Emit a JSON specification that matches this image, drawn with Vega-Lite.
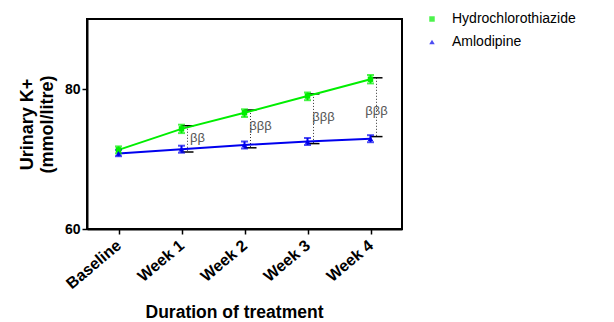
{
  "$schema": "https://vega.github.io/schema/vega-lite/v6.json",
  "width": 315,
  "height": 210,
  "autosize": "none",
  "padding": {"left": 87, "top": 19, "right": 212, "bottom": 93},
  "config": {
    "view": {"stroke": "black", "strokeWidth": 2},
    "font": "Liberation Sans",
    "axis": {"grid": false, "domainColor": "black", "domainWidth": 2, "tickColor": "black", "tickWidth": 1.5, "tickSize": 5, "labelColor": "black", "titleColor": "black", "labelFont": "Liberation Sans", "titleFont": "Liberation Sans", "labelFontWeight": "bold", "titleFontWeight": "bold"}
  },
  "datasets": {
    "means": [
      {"week": "Baseline", "drug": "Hydrochlorothiazide", "mean": 71.3, "lo": 70.8, "hi": 71.8},
      {"week": "Week 1", "drug": "Hydrochlorothiazide", "mean": 74.3, "lo": 73.7, "hi": 74.9},
      {"week": "Week 2", "drug": "Hydrochlorothiazide", "mean": 76.6, "lo": 76.0, "hi": 77.1},
      {"week": "Week 3", "drug": "Hydrochlorothiazide", "mean": 79.0, "lo": 78.4, "hi": 79.5},
      {"week": "Week 4", "drug": "Hydrochlorothiazide", "mean": 81.4, "lo": 80.8, "hi": 82.0},
      {"week": "Baseline", "drug": "Amlodipine", "mean": 70.8, "lo": 70.4, "hi": 71.3},
      {"week": "Week 1", "drug": "Amlodipine", "mean": 71.4, "lo": 70.9, "hi": 71.9},
      {"week": "Week 2", "drug": "Amlodipine", "mean": 72.0, "lo": 71.5, "hi": 72.5},
      {"week": "Week 3", "drug": "Amlodipine", "mean": 72.5, "lo": 72.0, "hi": 73.0},
      {"week": "Week 4", "drug": "Amlodipine", "mean": 72.9, "lo": 72.4, "hi": 73.4}
    ],
    "sig": [
      {"week": "Week 1", "top": 74.75, "bottom": 71.0, "label": "ββ", "labelY": 73.0},
      {"week": "Week 2", "top": 77.0, "bottom": 71.6, "label": "βββ", "labelY": 74.7},
      {"week": "Week 3", "top": 79.3, "bottom": 72.2, "label": "βββ", "labelY": 76.0},
      {"week": "Week 4", "top": 81.6, "bottom": 73.2, "label": "βββ", "labelY": 76.8}
    ]
  },
  "layer": [
    {
      "data": {"name": "sig"},
      "mark": {"type": "rule", "color": "#333333", "strokeWidth": 1, "strokeDash": [1, 2], "xOffset": 6},
      "encoding": {
        "x": {"field": "week", "type": "ordinal"},
        "y": {"field": "top", "type": "quantitative"},
        "y2": {"field": "bottom"}
      }
    },
    {
      "data": {"name": "sig"},
      "mark": {"type": "rule", "color": "black", "strokeWidth": 1.5, "xOffset": 0, "x2Offset": 12},
      "encoding": {
        "x": {"field": "week", "type": "ordinal"},
        "x2": {"field": "week"},
        "y": {"field": "top", "type": "quantitative"}
      }
    },
    {
      "data": {"name": "sig"},
      "mark": {"type": "rule", "color": "black", "strokeWidth": 1.5, "xOffset": 0, "x2Offset": 12},
      "encoding": {
        "x": {"field": "week", "type": "ordinal"},
        "x2": {"field": "week"},
        "y": {"field": "bottom", "type": "quantitative"}
      }
    },
    {
      "data": {"name": "sig"},
      "transform": [{"filter": "datum.week != 'Week 4'"}],
      "mark": {"type": "text", "dx": 16, "fontSize": 13, "color": "#555555", "align": "center", "baseline": "middle"},
      "encoding": {
        "x": {"field": "week", "type": "ordinal"},
        "y": {"field": "labelY", "type": "quantitative"},
        "text": {"field": "label"}
      }
    },
    {
      "data": {"name": "sig"},
      "transform": [{"filter": "datum.week == 'Week 4'"}],
      "mark": {"type": "text", "dx": 6, "fontSize": 13, "color": "#555555", "align": "center", "baseline": "middle"},
      "encoding": {
        "x": {"field": "week", "type": "ordinal"},
        "y": {"field": "labelY", "type": "quantitative"},
        "text": {"field": "label"}
      }
    },
    {
      "data": {"name": "means"},
      "mark": {"type": "line", "strokeWidth": 2},
      "encoding": {
        "x": {"field": "week", "type": "ordinal"},
        "y": {"field": "mean", "type": "quantitative"},
        "color": {"field": "drug", "type": "nominal"}
      }
    },
    {
      "data": {"name": "means"},
      "mark": {"type": "rule", "strokeWidth": 2},
      "encoding": {
        "x": {"field": "week", "type": "ordinal"},
        "y": {"field": "lo", "type": "quantitative"},
        "y2": {"field": "hi"},
        "color": {"field": "drug", "type": "nominal"}
      }
    },
    {
      "data": {"name": "means"},
      "mark": {"type": "tick", "size": 7, "thickness": 2},
      "encoding": {
        "x": {"field": "week", "type": "ordinal"},
        "y": {"field": "lo", "type": "quantitative"},
        "color": {"field": "drug", "type": "nominal"}
      }
    },
    {
      "data": {"name": "means"},
      "mark": {"type": "tick", "size": 7, "thickness": 2},
      "encoding": {
        "x": {"field": "week", "type": "ordinal"},
        "y": {"field": "hi", "type": "quantitative"},
        "color": {"field": "drug", "type": "nominal"}
      }
    },
    {
      "data": {"name": "means"},
      "mark": {"type": "point", "filled": true, "size": 30, "opacity": 1},
      "encoding": {
        "x": {
          "field": "week", "type": "ordinal",
          "scale": {"type": "point", "padding": 0.5},
          "axis": {"title": "Duration of treatment", "labelAngle": -40, "labelAlign": "right", "labelBaseline": "middle", "labelFontSize": 16, "labelPadding": 9, "titleFontSize": 17.5, "titleX": 147, "titleY": 88, "titleAlign": "center", "titleBaseline": "alphabetic"}
        },
        "y": {
          "field": "mean", "type": "quantitative",
          "scale": {"domain": [60, 90], "nice": false, "zero": false},
          "axis": {"title": ["Urinary K+", "(mmol/litre)"], "values": [60, 80], "labelFontSize": 14, "titleFontSize": 18, "titleLineHeight": 20, "titlePadding": 8, "labelPadding": 2}
        },
        "color": {
          "field": "drug", "type": "nominal",
          "scale": {"domain": ["Hydrochlorothiazide", "Amlodipine"], "range": ["#00ee00", "#0000ee"]},
          "legend": {"title": null, "orient": "none", "legendX": 338, "legendY": -7, "labelFontSize": 14, "labelColor": "black", "symbolSize": 30, "rowPadding": 9, "labelOffset": 13, "symbolStrokeWidth": 0}
        },
        "shape": {
          "field": "drug", "type": "nominal",
          "scale": {"domain": ["Hydrochlorothiazide", "Amlodipine"], "range": ["square", "triangle-up"]},
          "legend": {"title": null, "orient": "none", "legendX": 338, "legendY": -7, "labelFontSize": 14, "labelColor": "black", "symbolSize": 30, "rowPadding": 9, "labelOffset": 13, "symbolStrokeWidth": 0}
        }
      }
    }
  ]
}
